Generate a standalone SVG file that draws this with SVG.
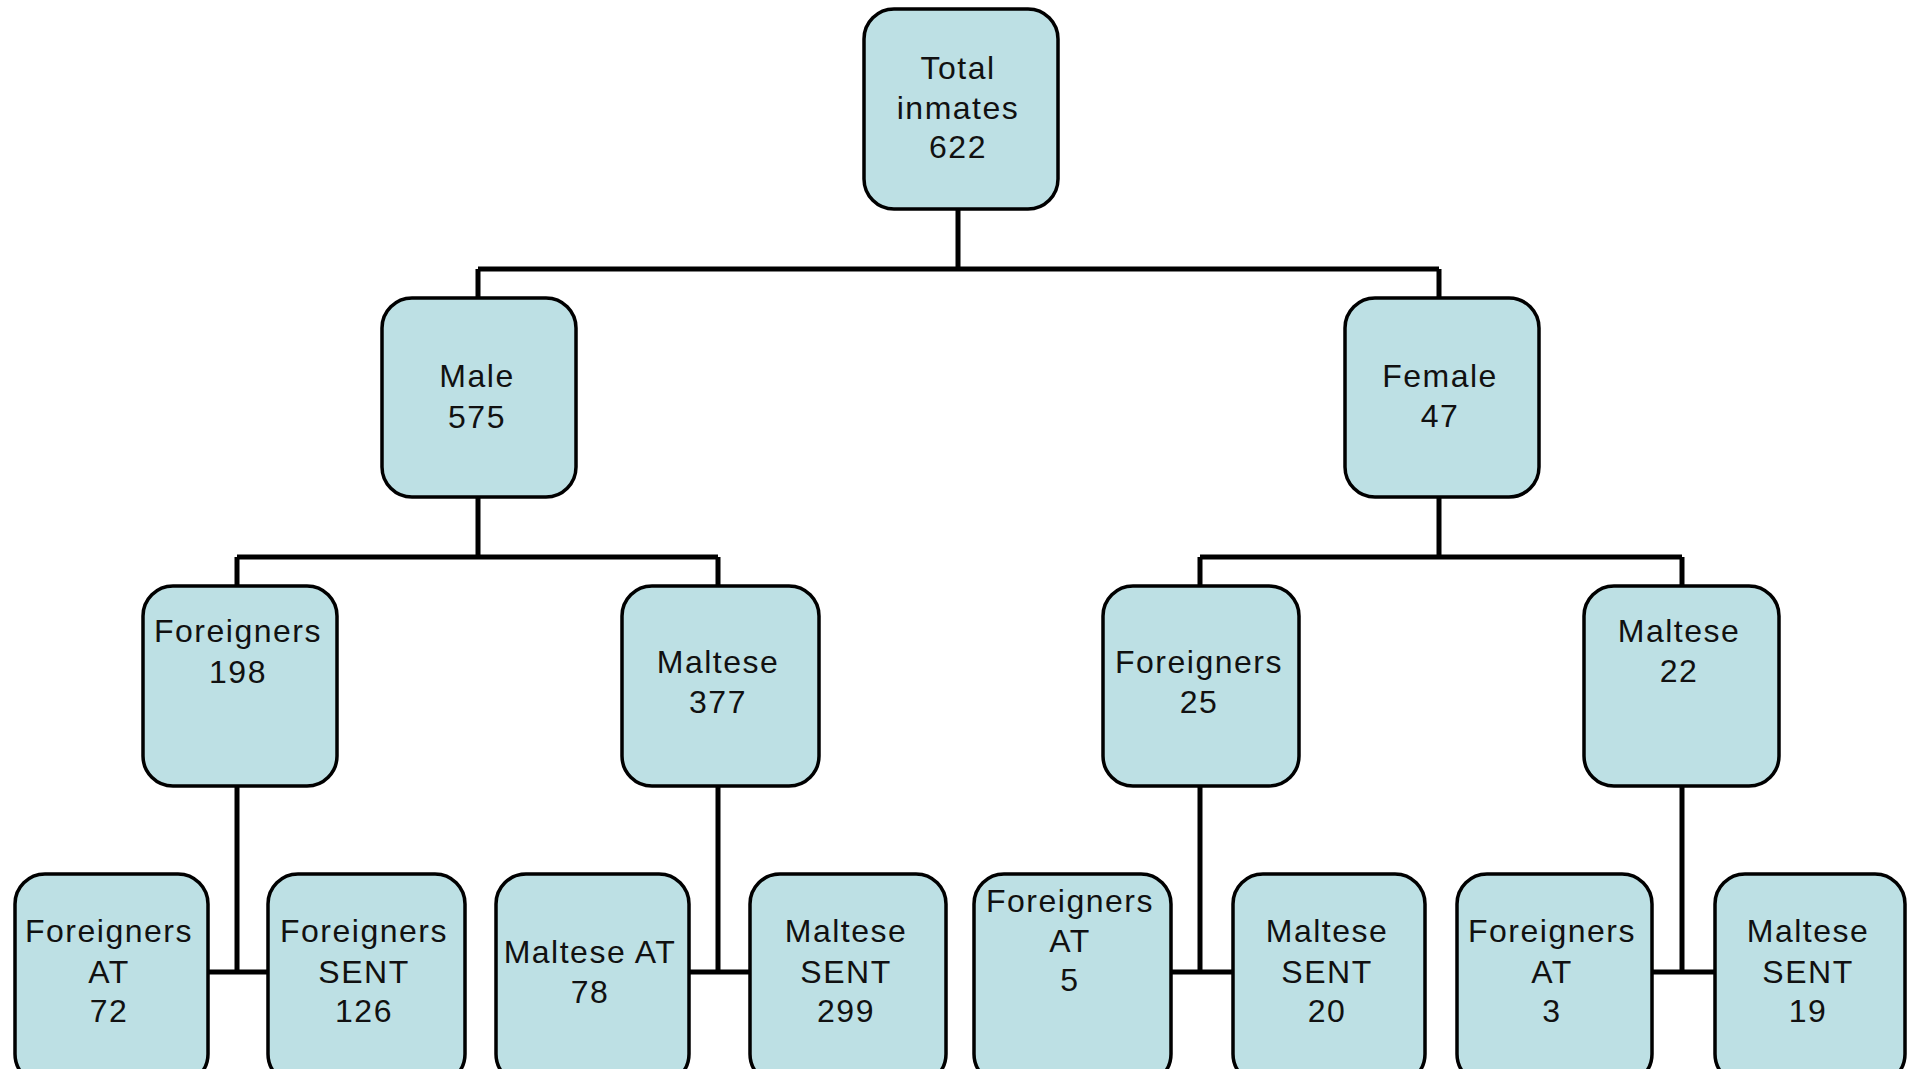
<svg xmlns="http://www.w3.org/2000/svg" width="1911" height="1069" viewBox="0 0 1911 1069">
<style>
.box{fill:#BDE0E4;stroke:#000;stroke-width:3.5}
.t{font-family:"Liberation Sans",Arial,sans-serif;font-size:32px;letter-spacing:1.5px;fill:#111;text-anchor:middle}
.c{fill:none;stroke:#000;stroke-width:5;stroke-linecap:butt}
</style>
<rect width="1911" height="1069" fill="#fff"/>
<g id="connectors">
<path class="c" d="M958 209V269M478 269H1439M478 269V298M1439 269V298"/>
<path class="c" d="M478 497V557M237 557H718M237 557V586M718 557V586"/>
<path class="c" d="M1439 497V557M1200 557H1682M1200 557V586M1682 557V586"/>
<path class="c" d="M237 786V972M208 972H268"/>
<path class="c" d="M718 786V972M689 972H750"/>
<path class="c" d="M1200 786V972M1171 972H1233"/>
<path class="c" d="M1682 786V972M1652 972H1715"/>
</g>
<g id="n-total"><rect class="box" x="864" y="9" width="194" height="200" rx="30"/><text class="t" x="958" y="79">Total</text><text class="t" x="958" y="119">inmates</text><text class="t" x="958" y="158">622</text></g>
<g id="n-male"><rect class="box" x="382" y="298" width="194" height="199" rx="30"/><text class="t" x="477" y="387">Male</text><text class="t" x="477" y="428">575</text></g>
<g id="n-female"><rect class="box" x="1345" y="298" width="194" height="199" rx="30"/><text class="t" x="1440" y="387">Female</text><text class="t" x="1440" y="427">47</text></g>
<g id="n-m-foreigners"><rect class="box" x="143" y="586" width="194" height="200" rx="30"/><text class="t" x="238" y="642">Foreigners</text><text class="t" x="238" y="683">198</text></g>
<g id="n-m-maltese"><rect class="box" x="622" y="586" width="197" height="200" rx="30"/><text class="t" x="718" y="673">Maltese</text><text class="t" x="718" y="713">377</text></g>
<g id="n-f-foreigners"><rect class="box" x="1103" y="586" width="196" height="200" rx="30"/><text class="t" x="1199" y="673">Foreigners</text><text class="t" x="1199" y="713">25</text></g>
<g id="n-f-maltese"><rect class="box" x="1584" y="586" width="195" height="200" rx="30"/><text class="t" x="1679" y="642">Maltese</text><text class="t" x="1679" y="682">22</text></g>
<g id="n-fat72"><rect class="box" x="15" y="874" width="193" height="210" rx="30"/><text class="t" x="109" y="942">Foreigners</text><text class="t" x="109" y="983">AT</text><text class="t" x="109" y="1022">72</text></g>
<g id="n-fsent126"><rect class="box" x="268" y="874" width="197" height="210" rx="30"/><text class="t" x="364" y="942">Foreigners</text><text class="t" x="364" y="983">SENT</text><text class="t" x="364" y="1022">126</text></g>
<g id="n-mat78"><rect class="box" x="496" y="874" width="193" height="210" rx="30"/><text class="t" x="590" y="963">Maltese AT</text><text class="t" x="590" y="1003">78</text></g>
<g id="n-msent299"><rect class="box" x="750" y="874" width="196" height="210" rx="30"/><text class="t" x="846" y="942">Maltese</text><text class="t" x="846" y="983">SENT</text><text class="t" x="846" y="1022">299</text></g>
<g id="n-fat5"><rect class="box" x="974" y="874" width="197" height="210" rx="30"/><text class="t" x="1070" y="912">Foreigners</text><text class="t" x="1070" y="952">AT</text><text class="t" x="1070" y="991">5</text></g>
<g id="n-msent20"><rect class="box" x="1233" y="874" width="192" height="210" rx="30"/><text class="t" x="1327" y="942">Maltese</text><text class="t" x="1327" y="983">SENT</text><text class="t" x="1327" y="1022">20</text></g>
<g id="n-fat3"><rect class="box" x="1457" y="874" width="195" height="210" rx="30"/><text class="t" x="1552" y="942">Foreigners</text><text class="t" x="1552" y="983">AT</text><text class="t" x="1552" y="1022">3</text></g>
<g id="n-msent19"><rect class="box" x="1715" y="874" width="190" height="210" rx="30"/><text class="t" x="1808" y="942">Maltese</text><text class="t" x="1808" y="983">SENT</text><text class="t" x="1808" y="1022">19</text></g>
</svg>
